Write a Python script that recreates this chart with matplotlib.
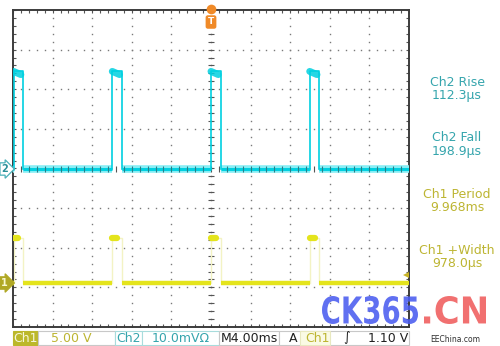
import numpy as np
import matplotlib
matplotlib.use("Agg")
import matplotlib.pyplot as plt
from matplotlib.patches import Rectangle, PathPatch
from matplotlib.textpath import TextPath
from matplotlib.font_manager import FontProperties
from matplotlib.transforms import Affine2D

# ---------------- data ----------------
time_per_div_ms = 4.0
n_hdiv, n_vdiv = 10, 8
pulse_starts_ms = [-19.94, -9.97, 0.0, 9.97]
pulse_width_ms = 0.98
ch2_low_div, ch2_high_div = 0.0, 2.45
ch1_low_div, ch1_high_div = -2.9, -1.76

meas_labels = ["Ch2 Rise", "Ch2 Fall", "Ch1 Period", "Ch1 +Width"]
meas_values = ["112.3\u00b5s", "198.9\u00b5s", "9.968ms", "978.0\u00b5s"]
meas_channels = ["ch2", "ch2", "ch1", "ch1"]

status_ch1_scale = "5.00 V"
status_ch2_scale = "10.0mV\u03a9"
status_time = "M4.00ms"
status_trig_src = "Ch1"
status_trig_level = "1.10 V"

# ---------------- colours ----------------
CYAN = "#00d0e0"
CYAN_LIGHT = "#8aeef5"
CYAN_TEXT = "#35a5ad"
YEL = "#e4e41c"
YEL_PALE = "#f3f3c4"
YEL_TEXT = "#bdb532"
GRID = "#7a7a7a"

W, H = 500, 346
fig = plt.figure(figsize=(W / 100, H / 100), dpi=100)
fig.patch.set_facecolor("white")

# graticule axes (pixel box 13..409 x 10..327)
gl, gr, gt, gb = 13, 409, 10, 327
ax = fig.add_axes([gl / W, 1 - gb / H, (gr - gl) / W, (gb - gt) / H])
xmax = n_hdiv / 2 * time_per_div_ms
ax.set_xlim(-xmax, xmax)
ax.set_ylim(-n_vdiv / 2, n_vdiv / 2)
ax.set_xticks([]); ax.set_yticks([])
for s in ax.spines.values():
    s.set_color("#3c3c3c"); s.set_linewidth(1.4)

minor_x = np.arange(-xmax, xmax + 1e-9, time_per_div_ms / 5)
minor_y = np.arange(-4, 4 + 1e-9, 0.2)
# dotted grid lines
for xv in np.arange(-xmax + time_per_div_ms, xmax - 1e-9, time_per_div_ms):
    if abs(xv) < 1e-9:
        continue
    ax.plot(np.full_like(minor_y, xv), minor_y, ls="none", marker="s", ms=1.0, color=GRID, mew=0)
for yv in range(-3, 4):
    if yv == 0:
        continue
    ax.plot(minor_x, np.full_like(minor_x, yv), ls="none", marker="s", ms=1.0, color=GRID, mew=0)
# centre crosshair ticks
ax.plot(np.zeros_like(minor_y), minor_y, ls="none", marker="_", ms=4, mew=0.8, color="#555555")
ax.plot(minor_x, np.zeros_like(minor_x), ls="none", marker="|", ms=4, mew=0.8, color="#555555")
ax.plot(np.zeros_like(minor_y), minor_y, ls="none", marker="s", ms=1.0, color="#555555", mew=0)
# border ticks
for yb in (-4, 4):
    ax.plot(minor_x, np.full_like(minor_x, yb), ls="none", marker="|", ms=5, mew=0.8, color="#555555")
for xb in (-xmax, xmax):
    ax.plot(np.full_like(minor_y, xb), minor_y, ls="none", marker="_", ms=5, mew=0.8, color="#555555")

# ---------------- traces ----------------
starts = list(pulse_starts_ms)
ends = [s + pulse_width_ms for s in starts]
seg_bounds = [(-xmax, starts[0])] + [(ends[i], starts[i + 1]) for i in range(len(starts) - 1)] + [(ends[-1], xmax)]

# Ch2 (cyan)
for a, b in seg_bounds:
    if b - a <= 0:
        continue
    ax.plot([a, b], [ch2_low_div, ch2_low_div], color=CYAN_LIGHT, lw=5.5, solid_capstyle="butt", zorder=3)
    ax.plot([a, b], [ch2_low_div, ch2_low_div], color=CYAN, lw=2.2, solid_capstyle="butt", zorder=4)
    ax.plot(minor_x[(minor_x > a) & (minor_x < b)], np.full(((minor_x > a) & (minor_x < b)).sum(), ch2_low_div),
            ls="none", marker="|", ms=4, mew=0.8, color="#2a7f88", zorder=5)
for s, e in zip(starts, ends):
    ax.plot([s, s, e, e], [ch2_low_div, ch2_high_div, ch2_high_div, ch2_low_div], color=CYAN, lw=1.2, zorder=4)
    ax.plot([s, s + 0.75 * pulse_width_ms], [ch2_high_div, ch2_high_div - 0.08], color=CYAN, lw=5.0,
            solid_capstyle="round", zorder=4, alpha=0.85)

# Ch1 (yellow)
for a, b in seg_bounds:
    if b - a <= 0:
        continue
    ax.plot([a, b], [ch1_low_div, ch1_low_div], color=YEL, lw=3.2, solid_capstyle="butt", zorder=3)
for s, e in zip(starts, ends):
    ax.plot([s, s, e, e], [ch1_low_div, ch1_high_div, ch1_high_div, ch1_low_div], color=YEL_PALE, lw=1.0, zorder=2)
    ax.plot([s, s + 0.5 * pulse_width_ms], [ch1_high_div, ch1_high_div], color=YEL, lw=4.5,
            solid_capstyle="round", zorder=3)

# trigger level marker (right edge)
ax.plot([xmax - 0.35], [-2.68], marker="<", ms=4.5, color="#c8b428", mew=0, clip_on=False, zorder=6)

# ---------------- overlay (pixel coords) ----------------
ov = fig.add_axes([0, 0, 1, 1], zorder=10)
ov.set_xlim(0, W); ov.set_ylim(H, 0)
ov.axis("off")
ov.patch.set_alpha(0)

# trigger position marker (top)
ov.plot([211], [9], marker="o", ms=7, color="#f08a28", mew=0)
ov.text(211, 22, "T", ha="center", va="center", fontsize=6.5, color="white", fontweight="bold",
        bbox=dict(boxstyle="round,pad=0.25", fc="#f08a28", ec="none"))

# channel markers (left)
ov.text(4.5, 169, "2", ha="center", va="center", fontsize=7, color="#2a8f98", fontweight="bold",
        bbox=dict(boxstyle="rarrow,pad=0.12", fc="white", ec="#4ab0b8", lw=0.9))
ov.text(4.5, 283, "1", ha="center", va="center", fontsize=7, color="#f8f8d0", fontweight="bold",
        bbox=dict(boxstyle="rarrow,pad=0.12", fc="#b0a824", ec="#b0a824", lw=0.9))

# measurements
meas_y = [(82.5, 96), (137.5, 151), (194, 207.5), (250, 263)]
for lab, val, ch, (y1, y2) in zip(meas_labels, meas_values, meas_channels, meas_y):
    col = CYAN_TEXT if ch == "ch2" else YEL_TEXT
    ov.text(457, y1, lab, ha="center", va="center", fontsize=9, color=col)
    ov.text(457, y2, val, ha="center", va="center", fontsize=9, color=col)

# status bar
yb0, yb1 = 331, 345
def box(x0, x1, fc="white", ec="#c8c8c8"):
    ov.add_patch(Rectangle((x0, yb0), x1 - x0, yb1 - yb0, fc=fc, ec=ec, lw=0.8))
box(13, 38, fc="#bcb82a", ec="#bcb82a")
box(38, 115)
box(115, 142, ec="#a8dcdc")
box(142, 219, ec="#a8dcdc")
box(219, 279)
box(279, 409)
box(300, 330, fc="#fafae4", ec="#e8e8c0")
ty = 338
ov.text(25.5, ty, "Ch1", ha="center", va="center", fontsize=9, color="#f6f6d8")
ov.text(71, ty, status_ch1_scale, ha="center", va="center", fontsize=9, color=YEL_TEXT)
ov.text(128.5, ty, "Ch2", ha="center", va="center", fontsize=9, color=CYAN_TEXT)
ov.text(181, ty, status_ch2_scale, ha="center", va="center", fontsize=9, color=CYAN_TEXT)
ov.text(249, ty, status_time, ha="center", va="center", fontsize=9, color="#202020")
ov.text(293, ty, "A", ha="center", va="center", fontsize=9, color="#202020")
ov.text(318, ty, status_trig_src, ha="center", va="center", fontsize=9, color=YEL_TEXT)
ov.text(347, ty, "\u222b", ha="center", va="center", fontsize=9, color="#202020")
ov.text(388, ty, status_trig_level, ha="center", va="center", fontsize=9, color="#202020")

# watermark
fp = FontProperties(family="DejaVu Sans", weight="bold")
def stamp(txt, x0, x1, ytop, ybot, color, alpha):
    p = TextPath((0, 0), txt, size=1, prop=fp)
    ext = p.get_extents()
    cap = TextPath((0, 0), "C", size=1, prop=fp).get_extents()
    sx = (x1 - x0) / ext.width
    sy = (ybot - ytop) / cap.height
    tr = Affine2D().translate(-ext.x0, -cap.y0).scale(sx, -sy).translate(x0, ybot)
    ov.add_patch(PathPatch(tr.transform_path(p), fc=color, ec="none", alpha=alpha, zorder=12))
stamp("CK365", 322, 418, 296, 324, "#4a5cf0", 0.88)
stamp(".CN", 424, 486, 296, 324, "#f06464", 0.92)
ov.text(455, 340, "EEChina.com", ha="center", va="center", fontsize=5.5, color="#303030")

fig.savefig("out.png", dpi=100, facecolor="white")
